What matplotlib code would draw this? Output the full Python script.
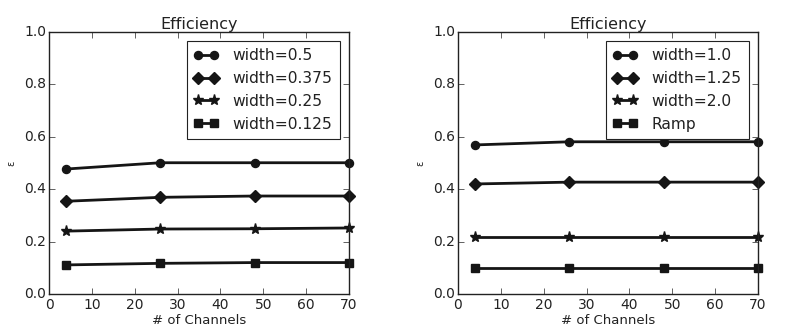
import matplotlib
matplotlib.use("Agg")
import matplotlib.pyplot as plt

plt.style.use("classic")

channels = [4, 26, 48, 70]

left_labels = ["width=0.5", "width=0.375", "width=0.25", "width=0.125"]
left_w050 = [0.477, 0.501, 0.501, 0.501]
left_w0375 = [0.354, 0.369, 0.374, 0.374]
left_w025 = [0.240, 0.248, 0.249, 0.252]
left_w0125 = [0.111, 0.117, 0.120, 0.120]

right_labels = ["width=1.0", "width=1.25", "width=2.0", "Ramp"]
right_w10 = [0.569, 0.581, 0.581, 0.581]
right_w125 = [0.420, 0.427, 0.427, 0.427]
right_w20 = [0.218, 0.218, 0.218, 0.218]
right_ramp = [0.100, 0.100, 0.100, 0.100]

markers = ["o", "D", "*", "s"]
marker_sizes = [5.8, 6.5, 8.0, 5.6]

fig = plt.figure(figsize=(7.97, 3.28), dpi=100, facecolor="white")
ax1 = fig.add_axes([49/797, 1 - 294/328, 300/797, 262/328])
ax2 = fig.add_axes([458/797, 1 - 294/328, 300/797, 262/328])

for ax, series, labels in [
    (ax1, [left_w050, left_w0375, left_w025, left_w0125], left_labels),
    (ax2, [right_w10, right_w125, right_w20, right_ramp], right_labels),
]:
    for ys, lab, m, ms in zip(series, labels, markers, marker_sizes):
        ax.plot(channels, ys, color="#151515", lw=2.0, marker=m, ms=ms,
                mec="#151515", mfc="#151515", mew=1.0, label=lab, clip_on=False)
    ax.set_xlim(0, 70)
    ax.set_ylim(0, 1.0)
    ax.set_xticks([0, 10, 20, 30, 40, 50, 60, 70])
    ax.set_yticks([0.0, 0.2, 0.4, 0.6, 0.8, 1.0])
    ax.tick_params(labelsize=10, pad=2, colors="#222222")
    ax.tick_params(axis="x", pad=3)
    for sp in ax.spines.values():
        sp.set_color("#222222")
    ax.set_title("Efficiency", fontsize=11.5, pad=2, color="#222222")
    ax.set_xlabel("# of Channels", fontsize=9.5, labelpad=1, color="#222222")
    ax.set_ylabel("ε", fontsize=7, labelpad=6, color="#222222")
    leg = ax.legend(loc="upper right", fontsize=11.2, numpoints=2,
                    handlelength=1.6, borderpad=0.45, labelspacing=0.5,
                    handletextpad=0.9, borderaxespad=0.6, fancybox=False)
    leg.get_frame().set_linewidth(0.8)
    leg.get_frame().set_edgecolor("#222222")
    for t in leg.get_texts():
        t.set_color("#222222")

fig.savefig("out.png", dpi=100, facecolor="white")
